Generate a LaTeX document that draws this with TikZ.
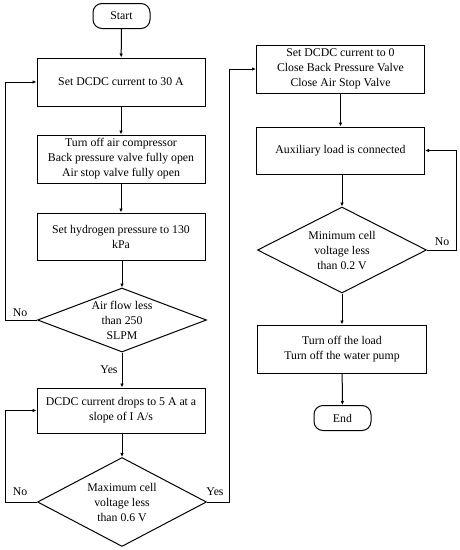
\documentclass[tikz,border=0pt]{standalone}
\usepackage{fontspec}
\setmainfont{Liberation Serif}
\usetikzlibrary{shapes.geometric,arrows.meta}
\begin{document}
\begin{tikzpicture}[x=1pt,y=-1pt,
  every node/.style={font=\fontsize{11.8}{15}\selectfont},
  proc/.style={draw,line width=1pt,minimum width=168pt,align=center,inner sep=0pt},
  term/.style={draw,line width=1pt,rounded corners=9pt,minimum width=57pt,minimum height=25pt,inner sep=0pt},
  dec/.style={draw,line width=1pt,diamond,aspect=2.6,inner sep=0pt,align=center},
  conn/.style={line width=1pt,-{Latex[length=4pt,width=3.5pt]}},
  lab/.style={font=\fontsize{11.8}{13}\selectfont}]
\useasboundingbox (0,0) rectangle (459,550);
\node[term] (start) at (121.5,16) {Start};
\node[proc,minimum height=48pt] (b1) at (121,82) {Set DCDC current to 30 A};
\node[proc,minimum height=48pt] (b2) at (121,159) {Turn off air compressor\\Back pressure valve fully open\\Air stop valve fully open};
\node[proc,minimum height=47pt] (b3) at (121,236.5) {Set hydrogen pressure to 130\\kPa};
\node[dec,minimum width=169pt,minimum height=64pt] (d1) at (122,320) {Air flow less\\than 250\\SLPM};
\node[proc,minimum height=45pt] (b4) at (121,410.5) {DCDC current drops to 5 A at a\\slope of I A/s};
\node[dec,minimum width=169pt,minimum height=89pt] (d2) at (122,502) {Maximum cell\\voltage less\\than 0.6 V};
\node[proc,minimum height=48pt] (b5) at (340.5,69) {Set DCDC current to 0\\Close Back Pressure Valve\\Close Air Stop Valve};
\node[proc,minimum height=47pt] (b6) at (340.5,150.5) {Auxiliary load is connected};
\node[dec,minimum width=169pt,minimum height=86pt] (d3) at (342,250) {Minimum cell\\voltage less\\than 0.2 V};
\node[proc,minimum height=48pt,minimum width=169pt] (b7) at (342,349) {Turn off the load\\Turn off the water pump};
\node[term] (end) at (342.5,418) {End};
\coordinate (l1) at (5,320);
\coordinate (l2) at (5,502);
\coordinate (r2) at (229,502);
\coordinate (r3) at (456,250);
\draw[conn] (start) -- (b1);
\draw[conn] (b1) -- (b2);
\draw[conn] (b2) -- (b3);
\draw[conn] (b3.south -| d1.north) -- (d1.north);
\draw[conn] (d1.south) -- (d1.south |- b4.north);
\draw[conn] (b4.south -| d2.north) -- (d2.north);
\draw[conn] (d1.west) -- (l1) |- (b1.west);
\draw[conn] (d2.west) -- (l2) |- (b4.west);
\draw[conn] (d2.east) -- (r2) |- (b5.west);
\draw[conn] (b5) -- (b6);
\draw[conn] (b6.south -| d3.north) -- (d3.north);
\draw[conn] (d3.east) -- (r3) |- (b6.east);
\draw[conn] (d3.south) -- (b7.north);
\draw[conn] (b7) -- (end);
\node[lab] (n1) at (20,313) {No};
\node[lab] (y1) at (109,370) {Yes};
\node[lab] (n2) at (20,492) {No};
\node[lab] (y2) at (215,492) {Yes};
\node[lab] (n3) at (442,242) {No};
\end{tikzpicture}
\end{document}
